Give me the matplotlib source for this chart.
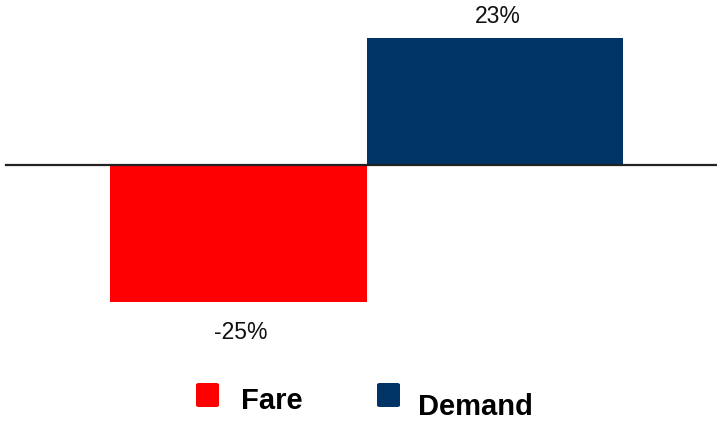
import matplotlib
matplotlib.use("Agg")
import matplotlib.pyplot as plt
from matplotlib.patches import FancyBboxPatch

categories = ["Fare", "Demand"]
values = [-25, 23]
labels = ["-25%", "23%"]
colors = ["#ff0000", "#003366"]

plt.rcParams["font.family"] = ["Liberation Sans", "DejaVu Sans"]

W, H = 717, 421
fig = plt.figure(figsize=(W / 100, H / 100), dpi=100)
ax = fig.add_axes([0, 0, 1, 1])

# 1 bar unit = 256.5 px, baseline at 164.5 px from top, 5.48 px per percent
ax.set_xlim(-0.5 - 110 / 256.5, 1.5 + 94 / 256.5)
ax.set_ylim(-(H - 164.5) / 5.48, 164.5 / 5.48)
ax.axis("off")

x = range(len(values))
ax.bar(x, values, width=1.0, color=colors, zorder=2)
ax.axhline(0, xmin=6 / W, xmax=1, color="#222222", lw=1.6, zorder=3)

for i, (v, lab) in enumerate(zip(values, labels)):
    off = 1.9 if v > 0 else -3.6
    ax.text(i + 0.01, v + off, lab, ha="center",
            va="bottom" if v > 0 else "top", fontsize=16.5, color="#111111")

# legend drawn by hand: the two entries sit at slightly different heights
def legend_entry(px, py, color, text, tx, ty):
    fig.patches.append(FancyBboxPatch(
        (px / W, 1 - (py + 24) / H), 23 / W, 24 / H,
        boxstyle="round,pad=0,rounding_size=0.004", transform=fig.transFigure,
        facecolor=color, edgecolor="none"))
    fig.text(tx / W, 1 - ty / H, text, fontsize=21, fontweight="bold",
             ha="left", va="baseline")

legend_entry(196, 383, colors[0], categories[0], 241, 409)
legend_entry(377, 383, colors[1], categories[1], 418, 415)

fig.savefig("out.png", dpi=100, facecolor="white")
